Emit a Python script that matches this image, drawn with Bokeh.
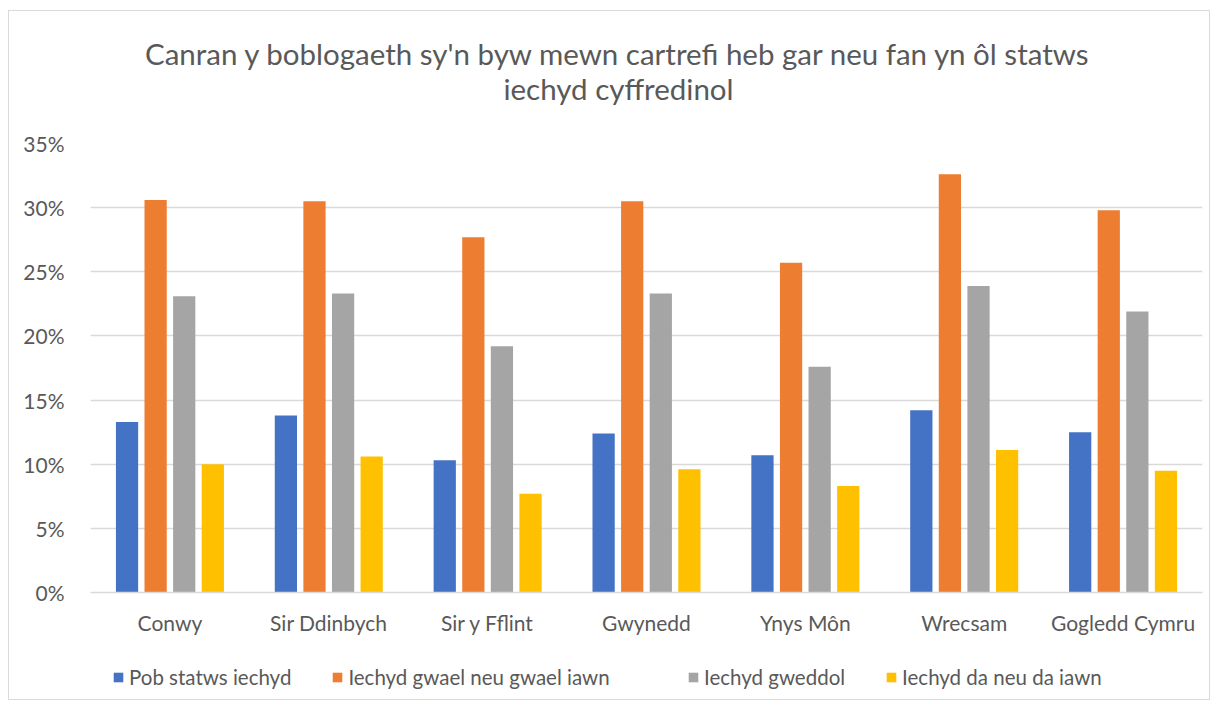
from bokeh.plotting import figure
from bokeh.layouts import column
from bokeh.models import (ColumnDataSource, FactorRange, FixedTicker, PrintfTickFormatter,
                          Legend, LegendItem, Range1d)
from bokeh.core.properties import value
from bokeh.transform import dodge
from bokeh.embed import file_html
from bokeh.resources import INLINE

categories = ["Conwy", "Sir Ddinbych", "Sir y Fflint", "Gwynedd", "Ynys Môn", "Wrecsam", "Gogledd Cymru"]
series_names = ["Pob statws iechyd", "Iechyd gwael neu gwael iawn", "Iechyd gweddol", "Iechyd da neu da iawn"]
pob_statws = [13.3, 13.8, 10.3, 12.4, 10.7, 14.2, 12.5]
gwael = [30.6, 30.5, 27.7, 30.5, 25.7, 32.6, 29.8]
gweddol = [23.1, 23.3, 19.2, 23.3, 17.6, 23.9, 21.9]
da = [10.0, 10.6, 7.7, 9.6, 8.3, 11.1, 9.5]
y_ticks = [0, 5, 10, 15, 20, 25, 30, 35]
title_lines = ["Canran y boblogaeth sy'n byw mewn cartrefi heb gar neu fan yn ôl statws",
               "iechyd cyffredinol"]

colors = ["#4472C4", "#ED7D31", "#A5A5A5", "#FFC000"]
FONT = "Lato"
TXT = "#595959"
W = 1200
BL, BR = 81, 7

# ---- title figure ----
tf = figure(width=W, height=110, x_range=Range1d(0, 1), y_range=Range1d(0, 110),
            output_backend="svg", toolbar_location=None,
            x_axis_location=None, y_axis_location=None,
            min_border_left=BL, min_border_right=BR, min_border_top=0, min_border_bottom=0)
tf.grid.visible = False
tf.outline_line_color = None
tx = (618 - 90) / 1112
tf.text(x=[tx, tx], y=[68, 33], text=title_lines, text_align="center",
        text_baseline="middle", text_font=value(FONT), text_font_size="29.5px", text_color=TXT)

# ---- main chart ----
src = ColumnDataSource(dict(cat=categories, s0=pob_statws, s1=gwael, s2=gweddol, s3=da))

p = figure(x_range=FactorRange(*categories), y_range=Range1d(0, 35),
           width=W, height=529, output_backend="svg", toolbar_location=None,
           min_border_left=BL, min_border_right=BR, min_border_top=22, min_border_bottom=58)

offsets = [-0.27, -0.09, 0.09, 0.27]
renderers = []
for i, key in enumerate(["s0", "s1", "s2", "s3"]):
    r = p.vbar(x=dodge("cat", offsets[i], range=p.x_range), top=key, width=0.14,
               source=src, color=colors[i], line_color=None)
    renderers.append(r)

p.outline_line_color = None
p.xgrid.grid_line_color = None
p.ygrid.grid_line_color = "#D9D9D9"
p.ygrid.grid_line_width = 1.3

p.yaxis.ticker = FixedTicker(ticks=y_ticks)
p.yaxis.formatter = PrintfTickFormatter(format="%d%%")
p.yaxis.axis_line_color = None
p.yaxis.major_tick_line_color = None
p.yaxis.minor_tick_line_color = None
p.yaxis.major_label_standoff = 20
p.yaxis.major_label_text_font = FONT
p.yaxis.major_label_text_font_size = "21px"
p.yaxis.major_label_text_color = TXT

p.xaxis.axis_line_color = "#D9D9D9"
p.xaxis.axis_line_width = 1.3
p.xaxis.major_tick_line_color = None
p.xaxis.minor_tick_line_color = None
p.xaxis.major_label_standoff = 11
p.xaxis.major_label_text_font = FONT
p.xaxis.major_label_text_font_size = "21px"
p.xaxis.major_label_text_color = TXT

# ---- legend figure ----
lf = figure(width=W, height=49, x_range=Range1d(0, 1), y_range=Range1d(0, 1),
            output_backend="svg", toolbar_location=None,
            x_axis_location=None, y_axis_location=None,
            min_border_left=BL, min_border_right=BR, min_border_top=5, min_border_bottom=0)
lf.grid.visible = False
lf.outline_line_color = None
# legend swatches only (placed outside the visible range)
lrs = [lf.rect(x=[-5], y=[-5], width=0.1, height=0.1, color=c, line_color=None) for c in colors]
items = [LegendItem(label=n, renderers=[r]) for n, r in zip(series_names, lrs)]
common = dict(orientation="horizontal", spacing=40,
              glyph_width=12, glyph_height=12, label_standoff=5,
              label_text_font=FONT, label_text_font_size="20.5px", label_text_color=TXT,
              border_line_color=None, background_fill_alpha=0, padding=0, margin=0)
lf.add_layout(Legend(items=items[:2], location=(22, 10), **common), "center")
lf.add_layout(Legend(items=items[2:], location=(597, 10), **common), "center")

layout = column(tf, p, lf, spacing=0,
                styles={"margin": "10px 0 0 8px", "border": "1px solid #D9D9D9"})

open("out.html", "w").write(file_html(layout, INLINE))
